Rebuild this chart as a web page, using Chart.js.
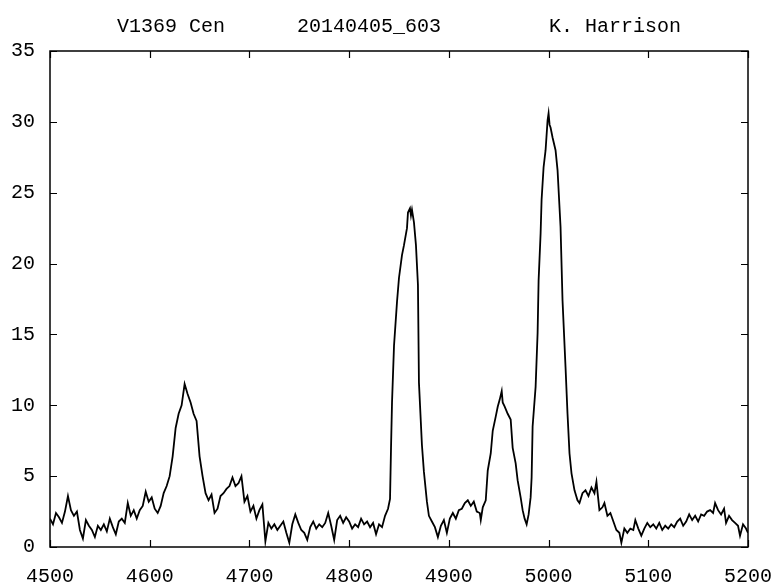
<!DOCTYPE html>
<html>
<head>
<meta charset="utf-8">
<script src="https://cdn.jsdelivr.net/npm/chart.js@4/dist/chart.umd.min.js"></script>
<style>
html,body{margin:0;padding:0;background:#fff;}
#wrap{width:778px;height:586px;}
</style>
</head>
<body>
<div id="wrap"><canvas id="c" width="778" height="586"></canvas></div>
<script>
const titleText = "V1369 Cen      20140405_603         K. Harrison";
const wavelengths = [4500,4503,4506,4509,4512,4515,4518,4521,4524,4527,4530,4533,4536,4539,4542,4545,4548,4551,4554,4557,4560,4563,4566,4569,4572,4575,4578,4581,4584,4587,4590,4593,4596,4599,4602,4605,4608,4611,4614,4617,4620,4623,4626,4629,4632,4635,4638,4641,4644,4647,4650,4653,4656,4659,4662,4665,4668,4671,4674,4677,4680,4683,4686,4689,4692,4695,4698,4701,4704,4707,4710,4713,4716,4719,4722,4725,4728,4731,4734,4737,4740,4743,4746,4749,4752,4755,4758,4761,4764,4767,4770,4773,4776,4779,4782,4785,4788,4791,4794,4797,4800,4803,4806,4809,4812,4815,4818,4821,4824,4827,4830,4833,4836,4839,4841,4842,4843,4845,4848,4850,4853,4855,4858,4859,4861,4862,4863,4865,4867,4869,4870,4873,4875,4878,4880,4883,4886,4889,4892,4895,4898,4901,4904,4907,4910,4913,4916,4919,4922,4925,4928,4931,4932,4934,4937,4939,4942,4944,4947,4949,4951,4953,4954,4956,4959,4962,4964,4967,4969,4972,4974,4976,4978,4980,4982,4983,4984,4987,4989,4990,4992,4993,4995,4997,4999,5000,5001,5002,5004,5007,5009,5012,5014,5017,5019,5021,5023,5026,5029,5031,5034,5037,5040,5043,5046,5048,5051,5054,5056,5059,5062,5065,5068,5071,5073,5076,5079,5082,5085,5087,5090,5093,5096,5099,5102,5105,5108,5111,5114,5117,5120,5123,5126,5129,5132,5135,5138,5141,5144,5147,5150,5153,5156,5159,5162,5165,5167,5170,5173,5176,5178,5181,5184,5187,5190,5192,5195,5198,5200];
const flux = [2.0,1.6,2.4,2.1,1.7,2.5,3.6,2.6,2.2,2.5,1.2,0.6,1.9,1.5,1.2,0.7,1.5,1.2,1.6,1.1,2.0,1.4,0.9,1.8,2.0,1.7,3.1,2.2,2.6,2.0,2.6,2.9,3.9,3.2,3.5,2.7,2.4,2.9,3.8,4.3,5.0,6.4,8.4,9.4,10.0,11.5,10.8,10.2,9.4,8.9,6.4,5.0,3.8,3.3,3.7,2.4,2.7,3.6,3.8,4.1,4.3,4.9,4.3,4.5,5.0,3.2,3.6,2.5,2.9,2.0,2.6,3.0,0.4,1.7,1.3,1.6,1.2,1.5,1.8,1.0,0.3,1.6,2.3,1.7,1.2,1.0,0.5,1.4,1.8,1.3,1.6,1.4,1.7,2.4,1.5,0.5,1.9,2.2,1.7,2.1,1.8,1.3,1.6,1.4,2.0,1.6,1.8,1.4,1.7,0.9,1.6,1.4,2.2,2.7,3.4,7.0,10.2,14.2,17.3,19.0,20.6,21.3,22.5,23.6,23.9,23.4,23.8,22.9,21.3,18.5,11.6,7.2,5.3,3.2,2.2,1.8,1.4,0.7,1.5,1.9,1.0,2.0,2.4,2.0,2.6,2.7,3.1,3.3,2.9,3.2,2.5,2.4,1.9,2.8,3.3,5.4,6.6,8.2,9.2,9.9,10.4,11.0,10.2,9.9,9.4,9.0,7.0,5.9,4.7,3.5,2.6,2.0,1.6,2.3,3.5,4.9,8.5,11.3,15.1,18.8,22.1,24.5,26.8,28.0,30.1,30.6,29.8,29.6,28.9,28.0,26.6,22.6,17.4,12.7,9.4,6.6,5.2,4.0,3.3,3.1,3.8,4.0,3.6,4.2,3.8,4.6,2.6,2.8,3.1,2.2,2.4,1.8,1.2,1.0,0.3,1.3,1.0,1.3,1.2,1.9,1.3,0.8,1.3,1.7,1.4,1.6,1.3,1.7,1.2,1.5,1.3,1.6,1.4,1.8,2.0,1.5,1.8,2.3,1.9,2.2,1.8,2.3,2.2,2.5,2.6,2.4,3.1,2.6,2.3,2.7,1.7,2.2,1.9,1.7,1.5,0.8,1.6,1.3,1.0];
const xTicks = [4500,4600,4700,4800,4900,5000,5100,5200];
const yTicks = [0,5,10,15,20,25,30,35];

const FONT = {family: "'Liberation Mono', 'DejaVu Sans Mono', monospace", size: 20};

const frame = {
  id: 'frame',
  afterDatasetsDraw(chart) {
    const {ctx, chartArea: a, scales} = chart;
    ctx.save();
    ctx.strokeStyle = '#000';
    ctx.lineWidth = 1.5;
    ctx.strokeRect(a.left, a.top, a.right - a.left, a.bottom - a.top);
    const tl = 7;
    ctx.beginPath();
    xTicks.forEach(v => {
      const px = Math.round(scales.x.getPixelForValue(v)) + 0.5;
      ctx.moveTo(px, a.bottom); ctx.lineTo(px, a.bottom - tl);
      ctx.moveTo(px, a.top); ctx.lineTo(px, a.top + tl);
    });
    yTicks.forEach(v => {
      const py = Math.round(scales.y.getPixelForValue(v)) + 0.5;
      ctx.moveTo(a.left, py); ctx.lineTo(a.left + tl, py);
      ctx.moveTo(a.right, py); ctx.lineTo(a.right - tl, py);
    });
    ctx.lineWidth = 1.2;
    ctx.stroke();
    ctx.fillStyle = '#000';
    ctx.font = FONT.size + "px " + FONT.family;
    ctx.textAlign = 'center';
    ctx.textBaseline = 'middle';
    ctx.fillText(titleText, (a.left + a.right) / 2, a.top - 24);
    ctx.restore();
  }
};

new Chart(document.getElementById('c'), {
  type: 'line',
  data: {
    datasets: [{
      data: wavelengths.map((w, i) => ({x: w, y: flux[i]})),
      borderColor: '#000',
      borderWidth: 1.8,
      pointRadius: 0,
      tension: 0,
      fill: false
    }]
  },
  options: {
    responsive: false,
    animation: false,
    layout: {padding: {top: 51, right: 30, bottom: 0, left: 0}},
    plugins: {legend: {display: false}, title: {display: false}, tooltip: {enabled: false}},
    scales: {
      x: {
        type: 'linear', min: 4500, max: 5200,
        afterBuildTicks: s => { s.ticks = xTicks.map(v => ({value: v})); },
        afterFit: s => { s.height = 39; s.paddingLeft = 0; s.paddingRight = 0; },
        grid: {display: false, drawTicks: false},
        border: {display: false},
        ticks: {color: '#000', font: FONT, padding: 18, maxRotation: 0, autoSkip: false, callback: v => String(v)}
      },
      y: {
        type: 'linear', min: 0, max: 35,
        afterBuildTicks: s => { s.ticks = yTicks.map(v => ({value: v})); },
        afterFit: s => { s.width = 50; s.paddingTop = 0; s.paddingBottom = 0; },
        grid: {display: false, drawTicks: false},
        border: {display: false},
        ticks: {color: '#000', font: FONT, padding: 15, autoSkip: false, callback: v => String(v)}
      }
    }
  },
  plugins: [frame]
});
</script>
</body>
</html>
